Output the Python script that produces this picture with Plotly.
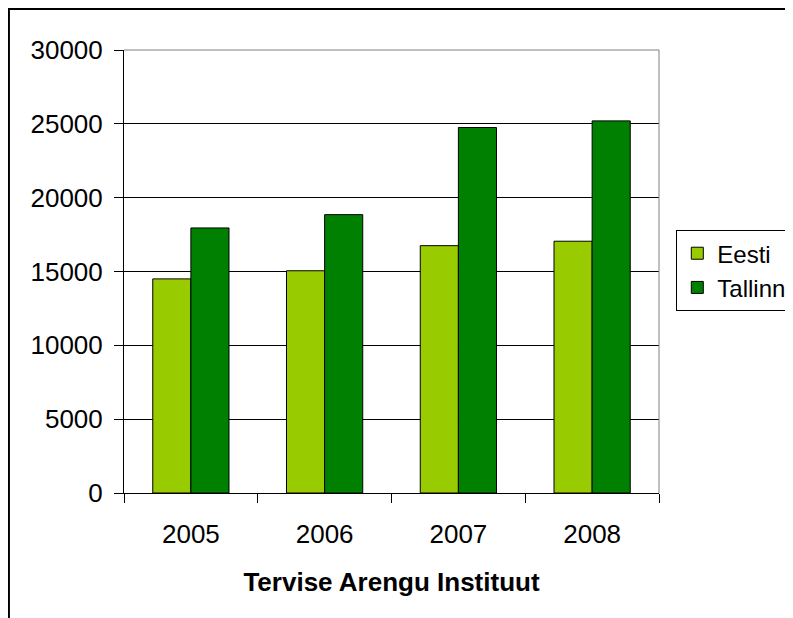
import plotly.graph_objects as go

years = ["2005", "2006", "2007", "2008"]
eesti = [14500, 15050, 16750, 17050]
tallinn = [17950, 18850, 24750, 25200]
y_ticks = [0, 5000, 10000, 15000, 20000, 25000, 30000]
x_title = "Tervise Arengu Instituut"

# page body has an 8px margin; figure coordinates = screen - 8
OFF = 8
W, H = 793 - OFF, 618 - OFF
L, R, T, B = 124 - OFF, 658.7 - OFF, 50 - OFF, 492.7 - OFF
pw, ph = R - L, B - T

FONT = "Liberation Sans, Arial, sans-serif"

fig = go.Figure()
fig.add_bar(x=years, y=eesti, name="Eesti", marker=dict(color="#99CC00", line=dict(color="black", width=1)))
fig.add_bar(x=years, y=tallinn, name="Tallinn", marker=dict(color="#008000", line=dict(color="black", width=1)))

def px_x(v):
    return (v - OFF - L) / pw

def px_y(v):
    return (B - (v - OFF)) / ph

fig.update_layout(
    width=W, height=H,
    margin=dict(l=L, r=W - R, t=T, b=H - B, autoexpand=False),
    paper_bgcolor="white", plot_bgcolor="white",
    barmode="group", bargap=0.43, bargroupgap=0,
    font=dict(family=FONT, size=26, color="black"),
    showlegend=True,
    legend=dict(
        x=px_x(676), y=px_y(230), xanchor="left", yanchor="top",
        bordercolor="black", borderwidth=1, bgcolor="white",
        font=dict(size=24), tracegroupgap=0,
    ),
    xaxis=dict(
        showline=True, linecolor="black", linewidth=1,
        ticks="outside", ticklen=9, tickcolor="black", tickson="boundaries",
        showgrid=False,
        tickfont=dict(size=26), ticklabelstandoff=18,
        title=dict(text="<b>" + x_title + "</b>", font=dict(size=26), standoff=24),
    ),
    yaxis=dict(
        range=[0, 30000], tickvals=y_ticks, ticktext=[str(v) for v in y_ticks],
        showline=True, linecolor="black", linewidth=1,
        ticks="outside", ticklen=9, tickcolor="black",
        showgrid=True, gridcolor="black", gridwidth=1,
        zeroline=False, tickfont=dict(size=26),
        ticklabelstandoff=6,
    ),
)

# plot-area border (gray, top and right)
fig.add_shape(type="line", xref="paper", yref="paper", x0=0, x1=1, y0=1, y1=1,
              line=dict(color="#808080", width=1), layer="above")
fig.add_shape(type="line", xref="paper", yref="paper", x0=1, x1=1, y0=0, y1=1,
              line=dict(color="#808080", width=1), layer="above")
# outer chart border (cropped at right and bottom)
fig.add_shape(type="line", xref="paper", yref="paper", x0=px_x(8), x1=px_x(820), y0=px_y(9), y1=px_y(9),
              line=dict(color="black", width=2), layer="above")
fig.add_shape(type="line", xref="paper", yref="paper", x0=px_x(9), x1=px_x(9), y0=px_y(8), y1=px_y(640),
              line=dict(color="black", width=2), layer="above")

fig.write_html("out.html")
